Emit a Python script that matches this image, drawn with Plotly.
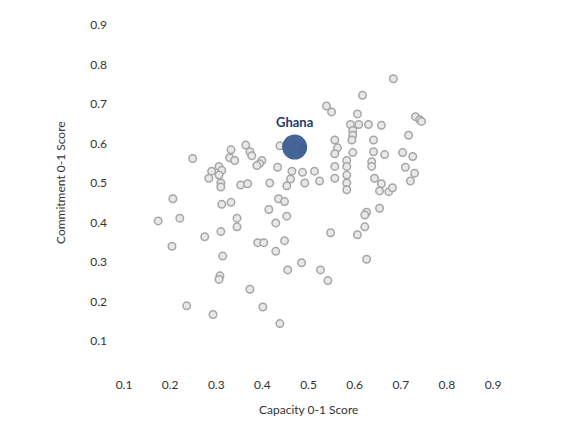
import plotly.graph_objects as go

capacity = [0.684, 0.617, 0.539, 0.550, 0.606, 0.591, 0.609, 0.630, 0.658, 0.732,
            0.741, 0.745, 0.596, 0.596, 0.717, 0.557, 0.594, 0.641, 0.563, 0.557,
            0.596, 0.641, 0.665, 0.704, 0.726, 0.583, 0.637, 0.557, 0.583, 0.637,
            0.710, 0.730, 0.583, 0.557, 0.643, 0.721, 0.583, 0.583, 0.658, 0.654,
            0.674, 0.682, 0.626, 0.622, 0.654, 0.622, 0.606, 0.626, 0.548, 0.438,
            0.487, 0.332, 0.364, 0.373, 0.377, 0.329, 0.340, 0.399, 0.394, 0.388,
            0.249, 0.306, 0.290, 0.312, 0.306, 0.284, 0.310, 0.310, 0.353, 0.368,
            0.416, 0.433, 0.464, 0.487, 0.513, 0.524, 0.492, 0.461, 0.453, 0.206,
            0.312, 0.332, 0.435, 0.448, 0.414, 0.453, 0.174, 0.221, 0.345, 0.345,
            0.429, 0.275, 0.310, 0.204, 0.390, 0.403, 0.448, 0.429, 0.314, 0.485,
            0.455, 0.526, 0.542, 0.308, 0.306, 0.373, 0.236, 0.293, 0.401, 0.438]
commitment = [0.764, 0.722, 0.695, 0.680, 0.675, 0.648, 0.648, 0.648, 0.646, 0.668,
              0.660, 0.656, 0.633, 0.621, 0.621, 0.609, 0.609, 0.609, 0.589, 0.574,
              0.577, 0.579, 0.572, 0.577, 0.567, 0.557, 0.554, 0.542, 0.542, 0.542,
              0.540, 0.525, 0.520, 0.512, 0.512, 0.505, 0.500, 0.483, 0.498, 0.480,
              0.478, 0.488, 0.426, 0.419, 0.436, 0.389, 0.369, 0.307, 0.374, 0.594,
              0.586, 0.584, 0.596, 0.579, 0.569, 0.564, 0.557, 0.557, 0.549, 0.544,
              0.562, 0.542, 0.530, 0.532, 0.520, 0.512, 0.500, 0.490, 0.495, 0.498,
              0.500, 0.540, 0.530, 0.527, 0.530, 0.505, 0.500, 0.510, 0.493, 0.460,
              0.446, 0.451, 0.460, 0.453, 0.433, 0.416, 0.404, 0.411, 0.411, 0.389,
              0.399, 0.364, 0.377, 0.340, 0.349, 0.349, 0.354, 0.327, 0.315, 0.298,
              0.280, 0.280, 0.253, 0.265, 0.256, 0.231, 0.189, 0.167, 0.186, 0.144]

highlight_name = ["Ghana"]
highlight_capacity = [0.470]
highlight_commitment = [0.591]

tick_vals = [0.1, 0.2, 0.3, 0.4, 0.5, 0.6, 0.7, 0.8, 0.9]
tick_text = ["0.1", "0.2", "0.3", "0.4", "0.5", "0.6", "0.7", "0.8", "0.9"]

FONT = "Lato, 'Open Sans', sans-serif"

fig = go.Figure()
fig.add_trace(go.Scatter(
    x=capacity, y=commitment, mode="markers",
    marker=dict(size=7.5, color="#e8e8e8", line=dict(color="#a6a6a6", width=1.5)),
    hoverinfo="x+y", showlegend=False,
))
fig.add_trace(go.Scatter(
    x=highlight_capacity, y=highlight_commitment, mode="markers+text",
    text=highlight_name, textposition="top center",
    textfont=dict(family=FONT, size=13, color="#1f3a6b", weight="bold"),
    marker=dict(size=25, color="rgba(52,88,140,0.92)", line=dict(width=0)),
    showlegend=False,
))

fig.update_layout(
    width=561, height=413,
    margin=dict(l=116, r=76, t=9, b=80),
    paper_bgcolor="white", plot_bgcolor="white",
    font=dict(family=FONT, size=12, color="#333333"),
    xaxis=dict(range=[0.1, 0.9], tickvals=tick_vals, ticktext=tick_text,
               showgrid=False, zeroline=False, showline=False,
               ticklabelstandoff=35, ticklabeloverflow="allow",
               tickfont=dict(size=12, color="#333333")),
    yaxis=dict(range=[0.1, 0.9], tickvals=tick_vals, ticktext=tick_text,
               showgrid=False, zeroline=False, showline=False,
               ticklabelstandoff=16, ticklabeloverflow="allow",
               tickfont=dict(size=12, color="#333333")),
    annotations=[
        dict(text="Capacity 0-1 Score", xref="paper", yref="paper", x=0.5, y=0,
             yshift=-68, showarrow=False, yanchor="middle",
             font=dict(size=12, color="#333333")),
        dict(text="Commitment 0-1 Score", xref="paper", yref="paper", x=0, y=0.5,
             xshift=-64, showarrow=False, xanchor="center", textangle=-90,
             font=dict(size=12, color="#333333")),
    ],
)

fig.write_html("out.html")
